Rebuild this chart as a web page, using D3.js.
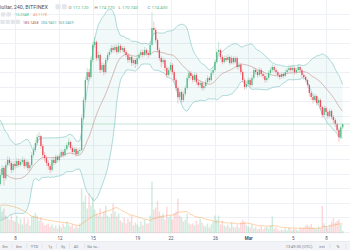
<!DOCTYPE html>
<html>
<head>
<meta charset="utf-8">
<script src="https://cdn.jsdelivr.net/npm/d3@7"></script>
<style>
  html, body { margin: 0; padding: 0; background: #fff; }
  svg { display: block; font-family: Roboto, "Liberation Sans", Arial, sans-serif; }
</style>
</head>
<body>
<svg width="350" height="250"></svg>
<script>
// LTC/USD 4h candles, Bitfinex, 6 Feb - 9 Mar 2018
const firstCandle = '2018-02-06T16:00:00Z';
const firstOpen = 133.0;

// closes before the visible window, only used to warm up the bands and volume MA
const priorCloses = [163, 167, 163, 159, 164, 157, 152, 155, 148, 143, 146, 139, 133, 127, 120, 114, 110, 120, 133];
const priorVolumes = [80, 95, 110, 90, 120, 140, 100, 130, 150, 120, 160, 140, 170, 190, 180, 210, 200, 170, 150];

const closes = [
  139.2, 144.1,
  137.1, 146.1, 149.6, 147.5, 142.7, 146.8,
  145.4, 148.9, 146.1, 148.2, 149.6, 145.4,
  148.2, 144.0, 146.1, 153.0, 156.5, 161.3,
  165.4, 166.1, 159.2, 153.0, 150.9, 147.5,
  145.4, 142.7, 149.6, 147.5, 151.6, 149.6,
  152.3, 155.1, 153.0, 157.1, 159.9, 162.0,
  157.8, 155.1, 157.1, 153.7, 155.8, 156.5,
  178.5, 190.9, 204.7, 210.2, 206.8, 218.5,
  228.9, 230.9, 219.9, 222.0, 211.6, 215.1,
  210.2, 218.5, 222.0, 224.0, 226.8, 225.4,
  227.5, 224.0, 228.2, 225.4, 226.8, 224.0,
  222.0, 218.5, 220.6, 216.4, 218.5, 215.8,
  219.9, 222.0, 224.0, 222.0, 225.4, 223.3,
  222.0, 228.9, 240.6, 239.2, 232.3, 225.4,
  219.9, 217.1, 218.5, 213.0, 208.2, 211.6,
  215.1, 210.2, 204.7, 199.2, 193.0, 196.4,
  190.9, 195.1, 199.2, 206.1, 209.6, 207.5,
  204.7, 208.2, 203.3, 201.3, 202.7, 199.2,
  200.6, 203.3, 206.1, 204.7, 209.6, 211.6,
  217.1, 224.0, 225.4, 220.6, 217.1, 219.9,
  218.5, 220.6, 216.4, 219.9, 217.1, 219.9,
  213.7, 215.1, 210.2, 204.7, 199.9, 202.0,
  204.7, 201.3, 206.1, 211.6, 210.2, 208.2,
  211.6, 208.9, 207.5, 204.7, 206.1, 209.6,
  211.6, 213.7, 211.6, 210.2, 208.2, 206.8,
  208.9, 207.5, 210.2, 211.6, 213.0, 211.6,
  213.0, 210.2, 211.6, 213.7, 211.6, 208.2,
  206.8, 204.7, 201.3, 195.8, 193.0, 190.9,
  193.7, 188.9, 190.9, 186.1, 180.6, 185.4,
  182.7, 179.9, 183.4, 179.2, 177.1, 174.4,
  170.3, 165.4, 172.12, 174.4
];

const highs = [
  141.5, 146,
  145.5, 148, 152, 151.5, 149, 148.5,
  149, 151, 150.5, 150, 152, 151,
  150, 149.5, 148, 155, 158.5, 163.5,
  167.5, 169, 167, 160.5, 155, 152.5,
  149.5, 147, 151, 151.5, 153.5, 153,
  154, 157, 156.5, 159, 161.5, 164.5,
  163, 159.5, 158.5, 158.5, 157.5, 158,
  181, 193, 207, 213, 212.5, 221,
  231, 234.5, 232, 224.5, 223, 217,
  216.5, 220, 224, 226, 229, 228.5,
  229.5, 229, 230.5, 229.5, 228.5, 228,
  225.5, 223.5, 222, 221.5, 220, 219.5,
  221.5, 223.5, 226, 225.5, 227.5, 226.5,
  225, 231, 251.5, 245, 241, 233.5,
  227, 221.5, 220.5, 219.5, 214.5, 213.5,
  217, 216.5, 211.5, 206, 200.5, 198.5,
  197.5, 197, 201, 208, 211.5, 211,
  209, 210, 209.5, 205, 204.5, 204,
  202.5, 205, 208, 207.5, 211.5, 213.5,
  219, 226, 231, 226.5, 222, 221.5,
  221.5, 222.5, 221.5, 221.5, 221, 221.5,
  221, 217, 216.5, 211.5, 206, 204,
  206.5, 206, 208, 213.5, 213, 211.5,
  213.5, 213, 210.5, 209, 208, 211.5,
  213.5, 215.5, 215, 213, 211.5, 209.5,
  210.5, 210, 212, 213, 214.5, 214.5,
  215, 214, 213, 215.5, 214.5, 212.5,
  209.5, 208, 205.5, 202, 197, 194.5,
  195.5, 194.5, 192.5, 192, 187, 187,
  186.5, 184, 185, 184.5, 180.5, 178.5,
  175.5, 171.5, 173.5, 174.77
];

const lows = [
  131.5, 137.5,
  132, 135.5, 144.5, 145.5, 140.5, 141,
  143.5, 144, 144.5, 145, 147, 143.5,
  144, 142, 142.5, 145, 151.5, 155,
  160, 163.5, 157.5, 151, 148.5, 145.5,
  143, 140.5, 141.5, 146, 146.5, 148,
  148.5, 151, 151.5, 152, 156, 158.5,
  156.5, 153.5, 154, 152, 152.5, 154,
  155.5, 177, 189.5, 202.5, 204, 205.5,
  217, 227, 218, 218, 209.5, 210,
  208, 209, 217, 220.5, 222.5, 223.5,
  224, 222.5, 223, 223.5, 224, 222.5,
  220.5, 216.5, 217, 214.5, 215, 213,
  214.5, 218.5, 220.5, 220.5, 221, 221.5,
  220, 221, 228, 236.5, 230.5, 223.5,
  218, 213.5, 215.5, 211, 206, 207,
  210, 208.5, 203, 197.5, 188.5, 191.5,
  189, 189.5, 193.5, 198, 204.5, 205.5,
  203, 203.5, 201.5, 199.5, 199.5, 197.5,
  197.5, 199, 202, 203, 203.5, 208,
  210.5, 216, 222.5, 219, 215.5, 216,
  217, 217.5, 215, 215.5, 215.5, 216,
  212, 212, 208.5, 203, 198, 198.5,
  200.5, 199.5, 200, 205, 208.5, 206.5,
  207, 207, 205.5, 203, 203, 205,
  208, 210, 210, 208.5, 206.5, 205,
  205.5, 206, 206.5, 209, 210.5, 210,
  210.5, 208.5, 209, 210.5, 210, 206.5,
  205, 203, 199.5, 193.5, 191, 188.5,
  189.5, 187, 187.5, 184, 178.5, 179.5,
  180.5, 178, 178.5, 177.5, 175, 172.5,
  168.5, 162, 164.5, 170.74
];

// volume in thousands
const volumes = [
  137, 112,
  127, 91, 81, 71, 96, 66,
  61, 91, 51, 76, 46, 81,
  51, 76, 41, 86, 91, 106,
  91, 66, 81, 56, 41, 46,
  51, 35, 46, 30, 41, 25,
  41, 30, 51, 35, 61, 46,
  35, 46, 25, 41, 30, 51,
  228, 162, 193, 127, 203, 142,
  183, 122, 101, 91, 127, 86,
  112, 142, 91, 81, 101, 152,
  112, 86, 101, 66, 56, 81,
  51, 76, 61, 91, 41, 56,
  46, 35, 61, 41, 71, 51,
  51, 91, 264, 122, 132, 167,
  112, 91, 101, 71, 137, 81,
  91, 71, 101, 112, 177, 91,
  81, 61, 71, 101, 51, 46,
  51, 41, 66, 46, 76, 56,
  41, 35, 51, 30, 46, 61,
  91, 71, 91, 46, 66, 41,
  35, 46, 30, 56, 35, 30,
  46, 30, 56, 71, 61, 41,
  35, 30, 46, 25, 35, 20,
  25, 35, 20, 30, 35, 25,
  41, 86, 25, 30, 20, 15,
  20, 15, 25, 15, 30, 20,
  15, 25, 20, 15, 30, 25,
  30, 41, 45, 36, 48, 30,
  28, 22, 35, 26, 140, 52,
  35, 30, 44, 60, 78, 56,
  64, 72, 45, 15.204
];

const tickDates = ['2018-02-08', '2018-02-12', '2018-02-15', '2018-02-19', '2018-02-22',
  '2018-02-26', '2018-03-01', '2018-03-05', '2018-03-08'];
const tickLabels = ['8', '12', '15', '19', '22', '26', 'Mar', '5', '8'];
const priceGrid = [100, 110, 120, 130, 140, 150, 160, 170, 180, 190, 200, 210, 220, 230, 240, 250];
const indicatorValues = ['43.117K', '185.1458', '206.9451', '163.3469'];
const rangeButtons = ['3m', '6m', 'YTD', '1y', '5y', 'All', 'Go to...'];

const W = 350;
const paneBottom = 233.5;
const up = '#53b987';
const down = '#eb4d5c';

const t0 = new Date(firstCandle);
const candles = closes.map((c, i) => ({
  t: d3.utcHour.offset(t0, 4 * i),
  o: i ? closes[i - 1] : firstOpen,
  h: highs[i],
  l: lows[i],
  c,
  v: volumes[i]
}));

// Bollinger(20, 2) and volume MA(20)
const allCloses = priorCloses.concat(closes);
const allVols = priorVolumes.concat(volumes);
const off = priorCloses.length;
candles.forEach((d, i) => {
  const win = allCloses.slice(i + off - 19, i + off + 1);
  const m = d3.mean(win);
  const sd = Math.sqrt(d3.mean(win, v => (v - m) * (v - m)));
  d.basis = m;
  d.upper = m + 2 * sd;
  d.lower = m - 2 * sd;
  d.vma = d3.mean(allVols.slice(i + off - 19, i + off + 1));
});

const svg = d3.select('svg');

const x = d3.scaleUtc()
  .domain([new Date('2018-02-08T00:00:00Z'), new Date('2018-03-08T00:00:00Z')])
  .range([15, 326]);
const y = d3.scaleLinear().domain([98.9, 259.9]).range([paneBottom, 0]);
const yVol = d3.scaleLinear().domain([0, 300]).range([paneBottom, paneBottom - 59]);

svg.append('defs').append('clipPath').attr('id', 'pane')
  .append('rect').attr('x', 0).attr('y', 0).attr('width', W).attr('height', paneBottom);

// grid
const grid = svg.append('g').attr('clip-path', 'url(#pane)');
grid.selectAll('.hg').data(priceGrid).enter().append('line')
  .attr('x1', 0).attr('x2', W)
  .attr('y1', d => Math.round(y(d)) + 0.5).attr('y2', d => Math.round(y(d)) + 0.5)
  .attr('stroke', '#edf0f5');
grid.selectAll('.vg').data(tickDates).enter().append('line')
  .attr('x1', d => Math.round(x(new Date(d))) + 0.5).attr('x2', d => Math.round(x(new Date(d))) + 0.5)
  .attr('y1', 0).attr('y2', paneBottom)
  .attr('stroke', '#edf0f5');

const pane = svg.append('g').attr('clip-path', 'url(#pane)');

// volume
pane.selectAll('.vol').data(candles).enter().append('rect')
  .attr('x', d => x(d.t) - 0.75)
  .attr('width', 1.5)
  .attr('y', d => yVol(d.v))
  .attr('height', d => paneBottom - yVol(d.v))
  .attr('fill', d => d.c >= d.o ? up : down)
  .attr('opacity', d => d.c >= d.o ? 0.28 : 0.22);

pane.append('path').datum(candles)
  .attr('d', d3.line().x(d => x(d.t)).y(d => yVol(d.vma)))
  .attr('fill', 'none').attr('stroke', '#ff9a3c').attr('stroke-opacity', 0.55).attr('stroke-width', 0.8);

// bollinger bands
pane.append('path').datum(candles)
  .attr('d', d3.area().x(d => x(d.t)).y0(d => y(d.lower)).y1(d => y(d.upper)))
  .attr('fill', '#2aa198').attr('fill-opacity', 0.06);
['upper', 'lower'].forEach(k => {
  pane.append('path').datum(candles)
    .attr('d', d3.line().x(d => x(d.t)).y(d => y(d[k])))
    .attr('fill', 'none').attr('stroke', '#7cc3c5').attr('stroke-width', 0.6);
});
pane.append('path').datum(candles)
  .attr('d', d3.line().x(d => x(d.t)).y(d => y(d.basis)))
  .attr('fill', 'none').attr('stroke', '#c08884').attr('stroke-width', 0.55);

// candles
const cg = pane.selectAll('.candle').data(candles).enter().append('g');
cg.append('line')
  .attr('x1', d => x(d.t)).attr('x2', d => x(d.t))
  .attr('y1', d => y(d.h)).attr('y2', d => y(d.l))
  .attr('stroke', d => d.c >= d.o ? up : down)
  .attr('stroke-width', 0.6).attr('stroke-opacity', 0.55);
cg.append('rect')
  .attr('x', d => x(d.t) - 0.65)
  .attr('width', 1.3)
  .attr('y', d => y(Math.max(d.o, d.c)))
  .attr('height', d => Math.max(0.6, Math.abs(y(d.o) - y(d.c))))
  .attr('fill', d => d.c >= d.o ? up : down);

// last price line
const last = candles[candles.length - 1];
pane.append('line')
  .attr('x1', 0).attr('x2', W)
  .attr('y1', y(last.c)).attr('y2', y(last.c))
  .attr('stroke', '#8fd0b2').attr('stroke-opacity', 0.7).attr('stroke-width', 0.8);

// time axis
const axis = svg.append('g')
  .attr('transform', `translate(0, ${paneBottom + 1})`)
  .call(d3.axisBottom(x)
    .tickValues(tickDates.map(d => new Date(d + 'T00:00:00Z')))
    .tickFormat((d, i) => tickLabels[i])
    .tickSize(0).tickPadding(2));
axis.select('.domain').remove();
axis.selectAll('text')
  .attr('font-size', 4.5)
  .attr('font-family', 'Roboto, "Liberation Sans", Arial, sans-serif')
  .attr('fill', '#4c525e')
  .attr('font-weight', (d, i) => tickLabels[i] === 'Mar' ? 'bold' : null);

// bottom toolbar
svg.append('rect').attr('x', 0).attr('y', 241.5).attr('width', W).attr('height', 8.5).attr('fill', '#f1f3f6');
svg.append('line').attr('x1', 0).attr('x2', W).attr('y1', 241.5).attr('y2', 241.5).attr('stroke', '#e1e4ea').attr('stroke-width', 0.6);
const btnX = [5, 19, 34.5, 50, 63, 76, 93.5];
const tb = svg.append('g').attr('font-size', 4).attr('fill', '#787b86');
tb.selectAll('text').data(rangeButtons).enter().append('text')
  .attr('x', (d, i) => btnX[i]).attr('y', 247.6).attr('text-anchor', 'middle').text(d => d);
tb.selectAll('line').data(btnX.slice(0, -1)).enter().append('line')
  .attr('x1', (d, i) => (btnX[i] + btnX[i + 1]) / 2).attr('x2', (d, i) => (btnX[i] + btnX[i + 1]) / 2)
  .attr('y1', 243.5).attr('y2', 248.5).attr('stroke', '#d6d9df').attr('stroke-width', 0.5);
tb.append('text').attr('x', 299).attr('y', 247.6).attr('text-anchor', 'middle').text('13:49:30 (UTC)');
tb.append('text').attr('x', 322).attr('y', 247.6).attr('text-anchor', 'middle').text('ext');
tb.append('text').attr('x', 338).attr('y', 247.6).attr('text-anchor', 'middle').text('%');
[311, 330, 346].forEach(sx => tb.append('line').attr('x1', sx).attr('x2', sx)
  .attr('y1', 243.5).attr('y2', 248.5).attr('stroke', '#d6d9df').attr('stroke-width', 0.5));

// legend
const lg = svg.append('g');
lg.append('text').attr('x', 48).attr('y', 8.6).attr('text-anchor', 'end')
  .attr('font-size', 5.4).attr('fill', '#4c525e').text('Litecoin / Dollar, 240, BITFINEX');
const icon = (ix, iy, s) => lg.append('rect').attr('x', ix).attr('y', iy).attr('width', s).attr('height', s)
  .attr('rx', 0.6).attr('fill', '#e3e6eb');
icon(55.5, 4.2, 5); icon(61.8, 4.2, 5);
const fmt = d3.format('.3f');
const ohlc = [['O', last.o, 68.5], ['H', last.h, 94.5], ['L', last.l, 118.5], ['C', last.c, 147.5]];
ohlc.forEach(([k, v, lx]) => {
  const t = lg.append('text').attr('x', lx).attr('y', 8.6).attr('font-size', 4.4);
  t.append('tspan').attr('fill', '#787b86').text(k + ' ');
  t.append('tspan').attr('fill', up).text(fmt(v));
});
icon(1, 12.2, 4.3); icon(6.6, 12.2, 4.3);
lg.append('text').attr('x', 15).attr('y', 16).attr('font-size', 3.8).attr('fill', up)
  .text(fmt(last.v) + 'K');
lg.append('text').attr('x', 33).attr('y', 16).attr('font-size', 3.8).attr('fill', '#f59a55')
  .text(indicatorValues[0]);
[0.5, 5.6, 10.7, 15.8].forEach(ix => icon(ix, 19.7, 4.2));
const bbColors = ['#b5524f', '#4ea6a8', '#4ea6a8'];
const bbX = [23, 41, 58];
indicatorValues.slice(1).forEach((v, i) => {
  lg.append('text').attr('x', bbX[i]).attr('y', 23.5).attr('font-size', 3.7).attr('fill', bbColors[i]).text(v);
});
</script>
</body>
</html>
